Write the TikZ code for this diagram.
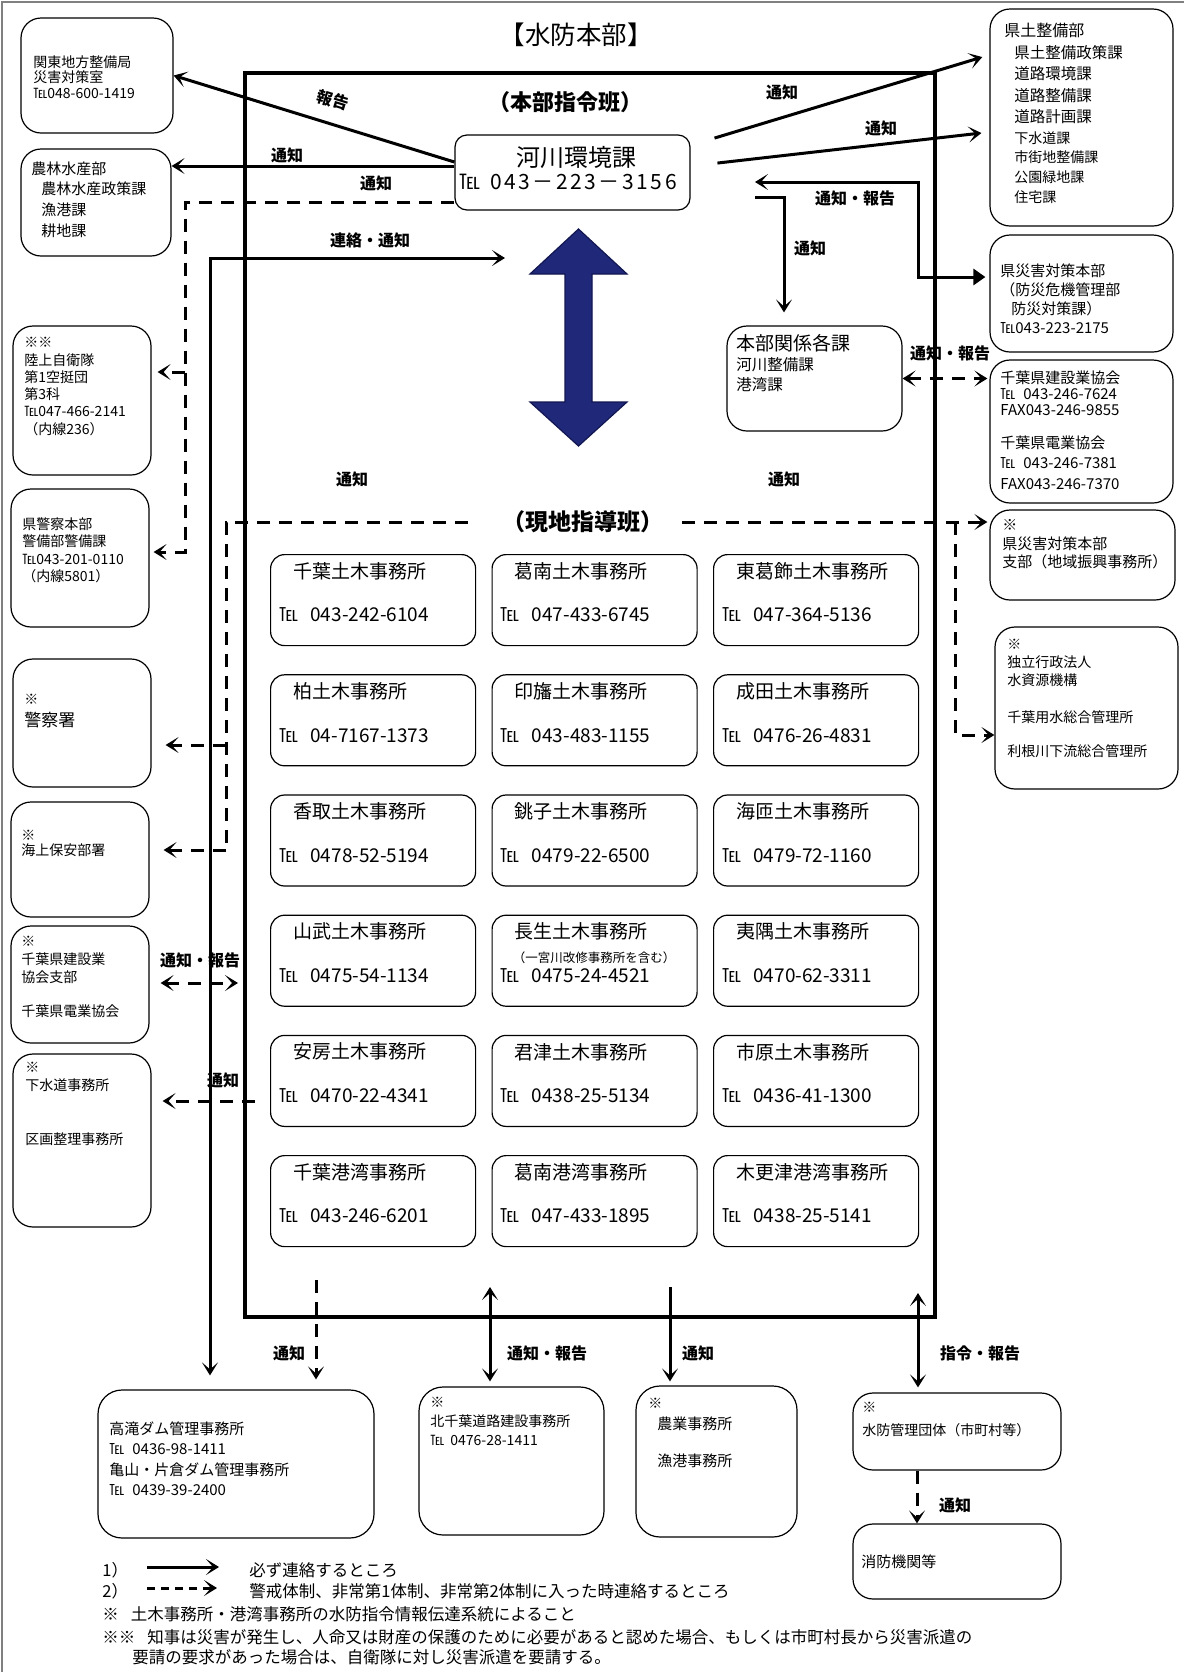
\documentclass[tikz,border=0pt]{standalone}
\usepackage{fontspec}
\setmainfont{Noto Sans CJK JP}
\usetikzlibrary{arrows.meta,positioning,calc,fit}
\definecolor{navy}{RGB}{32,40,122}
\definecolor{navyd}{RGB}{18,22,80}
\newcommand\fs[2]{\fontsize{#1}{#2}\selectfont}
\tikzset{
  box/.style={draw, rounded corners=10pt, line width=0.6pt, inner sep=0pt},
  ofc/.style={box, rounded corners=7pt, minimum width=102.5pt, minimum height=45.5pt, anchor=north west},
  txt/.style={anchor=north west, align=left, inner sep=0pt},
  lin/.style={anchor=west, inner sep=0pt},
  lbl/.style={font=\fs{8}{8}\bfseries, inner sep=0pt},
  arr/.style={-{Stealth[length=6.5pt,width=8pt,inset=3.5pt]}, line width=1.5pt},
  barr/.style={{Stealth[length=6.5pt,width=8pt,inset=3.5pt]}-{Stealth[length=6.5pt,width=8pt,inset=3.5pt]}, line width=1.5pt},
  dsh/.style={line width=1.5pt, dash pattern=on 6.5pt off 4.5pt},
  darr/.style={arr, dash pattern=on 6.5pt off 4.5pt},
  dbarr/.style={barr, dash pattern=on 6.5pt off 4.5pt}}

\begin{document}
\begin{tikzpicture}[x=0.5pt, y=-0.5pt]
  \useasboundingbox (0,0) rectangle (1184,1672);
  \draw[gray, line width=0.8pt] (2,1672) -- (2,2) -- (1184,2);
  % headquarters frame
  \node[draw, line width=2pt, inner sep=0pt, fit={(245,73) (935,1317)}] (hq) {};
  \node[font=\fs{12.75}{12.75}] (title) at (576,35) {【水防本部】};
  \node[font=\fs{11}{11}\bfseries] (shirei) at (565,102) {（本部指令班）};
  \node[box, rounded corners=6pt, fit={(455,135) (690,210)}] (kawa) {};
  \node[font=\fs{12}{12}] (kawaT) at (576,157) {河川環境課};
  \node[lin, font=\fs{10.5}{10.5}] (kawaP) at (459,182) {℡\hspace{5pt}{\addfontfeature{LetterSpace=12}043－223－3156}};
  \fill[navy, draw=navyd, line width=0.6pt] (578.5,229) -- (627,274) -- (592,274) -- (592,402) -- (627,402)
    -- (578.5,446) -- (530,402) -- (565,402) -- (565,274) -- (530,274) -- cycle;
  \node[font=\fs{11.5}{11.5}\bfseries, inner xsep=9pt] (genchi) at (583,522) {（現地指導班）};

  % left column
  \node[box, fit={(21,18) (173,133)}] (kanto) {};
  \node[txt, font=\fs{7}{7.75}] (kantoT) at (33,55) {関東地方整備局\\災害対策室\\℡048-600-1419};
  \node[box, fit={(21,149) (171,256)}] (nourin) {};
  \node[txt, font=\fs{7.5}{10.35}] (nourinT) at (31,161) {農林水産部\\\hspace*{5pt}農林水産政策課\\\hspace*{5pt}漁港課\\\hspace*{5pt}耕地課};
  \node[box, fit={(13,326) (151,475)}] (jieitai) {};
  \node[txt, font=\fs{7}{8.65}] (jieitaiT) at (24,337) {※※\\陸上自衛隊\\第1空挺団\\第3科\\℡047-466-2141\\（内線236）};
  \node[box, fit={(11,489) (149,627)}] (keihon) {};
  \node[txt, font=\fs{7}{8.75}] (keihonT) at (22,517) {県警察本部\\警備部警備課\\℡043-201-0110\\（内線5801）};
  \node[box, fit={(13,659) (151,787)}] (keisatsu) {};
  \node[lin, font=\fs{7}{7}] (keisatsuT) at (24,699) {※};
  \node[lin, font=\fs{8.5}{8.5}] (keisatsuT2) at (24,720) {警察署};
  \node[box, fit={(11,802) (149,917)}] (kaijo) {};
  \node[txt, font=\fs{7}{7.5}] (kaijoT) at (21,830) {※\\海上保安部署};
  \node[box, fit={(11,926) (149,1043)}] (kss) {};
  \node[txt, font=\fs{7}{9}] (kssT) at (21,936) {※\\千葉県建設業\\協会支部};
  \node[lin, font=\fs{7}{7}] (kssT2) at (21,1011) {千葉県電業協会};
  \node[box, fit={(13,1054) (151,1227)}] (gesui) {};
  \node[txt, font=\fs{7}{9}] (gesuiT) at (25,1062) {※\\下水道事務所};
  \node[lin, font=\fs{7}{7}] (gesuiT2) at (25,1139) {区画整理事務所};

  % right column
  \node[box, fit={(990,9) (1173,226)}] (kendo) {};
  \node[lin, font=\fs{8}{8}] (kendoT) at (1004,30) {県土整備部};
  \node[txt, font=\fs{7.75}{10.65}] (kendoT2) at (1014,45) {県土整備政策課\\道路環境課\\道路整備課\\道路計画課};
  \node[txt, font=\fs{7}{9.85}] (kendoT3) at (1014,131) {下水道課\\市街地整備課\\公園緑地課\\住宅課};
  \node[box, fit={(990,235) (1173,352)}] (saigai) {};
  \node[txt, font=\fs{7.5}{9.65}] (saigaiT) at (1000,263) {県災害対策本部\\（防災危機管理部\\\hspace*{5.5pt}防災対策課）\\℡043-223-2175};
  \node[box, fit={(990,360) (1173,503)}] (kyokai) {};
  \node[txt, font=\fs{7.5}{8}] (kyokaiT) at (1000,370) {千葉県建設業協会\\℡\hspace{4pt}043-246-7624\\FAX043-246-9855};
  \node[txt, font=\fs{7.5}{10.25}] (kyokaiT2) at (1000,435) {千葉県電業協会\\℡\hspace{4pt}043-246-7381\\FAX043-246-7370};
  \node[box, fit={(990,510) (1175,600)}] (shibu) {};
  \node[txt, font=\fs{7.5}{9.25}] (shibuT) at (1002,519) {※\\県災害対策本部\\支部（地域振興事務所）};
  \node[box, fit={(995,627) (1178,789)}] (mizu) {};
  \node[txt, font=\fs{7}{9}] (mizuT) at (1007,639) {※\\独立行政法人\\水資源機構};
  \node[txt, font=\fs{7}{17}] (mizuT2) at (1007,710) {千葉用水総合管理所\\利根川下流総合管理所};
  \node[box, fit={(727,326) (902,431)}] (hk) {};
  \node[lin, font=\fs{9.5}{9.5}] (hkT) at (736,343) {本部関係各課};
  \node[txt, font=\fs{7.75}{10}] (hkT2) at (736,357) {河川整備課\\港湾課};

  % offices
  \foreach \nm/\tl [count=\i from 0] in {千葉土木事務所/043-242-6104, 葛南土木事務所/047-433-6745,
      東葛飾土木事務所/047-364-5136, 柏土木事務所/04-7167-1373, 印旛土木事務所/043-483-1155,
      成田土木事務所/0476-26-4831, 香取土木事務所/0478-52-5194, 銚子土木事務所/0479-22-6500,
      海匝土木事務所/0479-72-1160, 山武土木事務所/0475-54-1134, 長生土木事務所/0475-24-4521,
      夷隅土木事務所/0470-62-3311, 安房土木事務所/0470-22-4341, 君津土木事務所/0438-25-5134,
      市原土木事務所/0436-41-1300, 千葉港湾事務所/043-246-6201, 葛南港湾事務所/047-433-1895,
      木更津港湾事務所/0438-25-5141} {
    \pgfmathtruncatemacro\cc{mod(\i,3)}
    \pgfmathtruncatemacro\rr{div(\i,3)}
    \node[ofc] (o\i) at (270+221.5*\cc, 554+120.2*\rr) {};
    \node[lin, font=\fs{9.5}{9.5}] (t\i) at ([shift={(23,17)}]o\i.north west) {\nm};
    \node[lin, font=\fs{9.5}{9.5}] (p\i) at ([shift={(9,61)}]o\i.north west) {℡\hspace{6pt}\tl};
  }
  \node[lin, font=\fs{6.25}{6.25}] (o10s) at ([shift={(21,43)}]o10.north west) {（一宮川改修事務所を含む）};

  % bottom row
  \node[box, rounded corners=12pt, fit={(98,1390) (374,1538)}] (takataki) {};
  \node[txt, font=\fs{7.5}{10.3}] (takatakiT) at (109,1421) {高滝ダム管理事務所\\℡\hspace{4pt}0436-98-1411\\亀山・片倉ダム管理事務所\\℡\hspace{4pt}0439-39-2400};
  \node[box, rounded corners=12pt, fit={(419,1387) (604,1535)}] (kitachiba) {};
  \node[txt, font=\fs{7}{9.5}] (kitachibaT) at (430,1397) {※\\北千葉道路建設事務所\\℡\hspace{3pt}0476-28-1411};
  \node[box, rounded corners=12pt, fit={(636,1386) (797,1537)}] (nogyo) {};
  \node[lin, font=\fs{7}{7}] (nogyoT) at (648,1403) {※};
  \node[txt, font=\fs{7.5}{18.5}] (nogyoT2) at (657,1416) {農業事務所\\漁港事務所};
  \node[box, rounded corners=10pt, fit={(853,1393) (1061,1470)}] (suibo) {};
  \node[txt, font=\fs{7}{11.5}] (suiboT) at (862,1402) {※\\水防管理団体（市町村等）};
  \node[box, rounded corners=10pt, fit={(853,1524) (1061,1599)}] (shobo) {};
  \node[lin, font=\fs{7.5}{7.5}] (shoboT) at (861,1562) {消防機関等};

  % connectors, upper left
  \draw[arr] ([yshift=5.25pt]kawa.west) -- (kanto.east);
  \node[lbl, rotate=-17.2] (l1) at (333,100) {報告};
  \draw[arr] ([yshift=3.25pt]kawa.west) coordinate (k1) -- (k1 -| nourin.east);
  \node[lbl] (l2) at (287,155) {通知};
  \coordinate (jt) at ([yshift=14.25pt]jieitai.east);
  \coordinate (kh) at ([yshift=3pt]keihon.east);
  \coordinate (dl) at (185,0);
  \draw[darr, shorten >=2pt] ([yshift=-14.75pt]kawa.west) -| (dl |- kh) -- (kh);
  \draw[darr, shorten >=3pt] (dl |- jt) -- (jt);
  \node[lbl] (l3) at (376,183) {通知};
  \coordinate (rn) at (505,258);
  \coordinate (lt) at (210,258);
  \draw[barr, shorten >=7pt] (rn) -- (lt) -- (lt |- takataki.north);
  \node[lbl] (l4) at (370,240) {連絡・通知};

  % connectors, upper right
  \draw[arr, shorten <=12.5pt, shorten >=3.7pt] ([yshift=13.6pt]kawa.east) -- ([yshift=31.3pt]kendo.west);
  \node[lbl] (l5) at (782,92) {通知};
  \draw[arr, shorten <=13.5pt, shorten >=4pt] ([yshift=3.2pt]kawa.east) -- ([yshift=-7.3pt]kendo.west);
  \node[lbl] (l6) at (881,128) {通知};
  \coordinate (nt) at (755,182);
  \coordinate (nb) at (918,182);
  \coordinate (sg) at ([yshift=8.25pt]saigai.west);
  \draw[{Stealth[length=6.5pt,width=8pt,inset=3.5pt]}-{Triangle[length=6pt,width=8pt]}, line width=1.5pt, shorten >=2pt] (nt) -- (nb) |- (sg);
  \node[lbl] (l7) at (855,198) {通知・報告};
  \coordinate (nd) at (755,197);
  \draw[arr, shorten >=6.5pt] (nd) -| ([xshift=-15.25pt]hk.north);
  \node[lbl] (l8) at (810,248) {通知};
  \draw[dbarr, shorten >=1pt] (hk.east) -- (hk.east -| kyokai.west);
  \node[lbl] (l9) at (950,353) {通知・報告};

  % field team lines
  \node[lbl] (l10) at (352,479) {通知};
  \node[lbl] (l11) at (784,479) {通知};
  \coordinate (gl) at (226,522);
  \coordinate (ks) at ([yshift=-11pt]keisatsu.east);
  \coordinate (kj) at ([yshift=4.75pt]kaijo.east);
  \draw[dsh, shorten <=8pt] (genchi.west) -- (gl) -- (gl |- kj);
  \draw[darr, shorten >=7pt] (gl |- ks) -- (ks);
  \draw[darr, shorten >=7pt] (gl |- kj) -- (kj);
  \coordinate (gr) at (955,522);
  \coordinate (mz) at ([yshift=-13.5pt]mizu.west);
  \draw[darr, shorten >=1pt] (genchi.east) -- (genchi.east -| shibu.west);
  \draw[darr] (gr) |- (mz);
  \coordinate (ka) at ([yshift=0.75pt]kss.east);
  \draw[dbarr, shorten <=5.5pt, shorten >=2.5pt] (ka) -- (ka -| hq.west);
  \node[lbl] (l12) at (200,960) {通知・報告};
  \coordinate (gs) at ([yshift=19.75pt]gesui.east);
  \coordinate (gs0) at ([xshift=6pt]hq.west);
  \draw[darr, shorten >=5.5pt] (gs0 |- gs) -- (gs);
  \node[lbl] (l13) at (223,1080) {通知};

  % bottom connectors
  \coordinate (bd1) at (316,1280);
  \draw[darr, shorten >=5pt] (bd1) -- (bd1 |- takataki.north);
  \node[lbl] (l14) at (289,1353) {通知};
  \coordinate (bd2) at (490,1287);
  \draw[barr, shorten >=2.5pt] (bd2) -- (bd2 |- kitachiba.north);
  \node[lbl] (l15) at (547,1353) {通知・報告};
  \coordinate (bd3) at (670,1287);
  \draw[arr, shorten >=2pt] (bd3) -- (bd3 |- nogyo.north);
  \node[lbl] (l16) at (698,1353) {通知};
  \coordinate (bd4) at (918,1293);
  \draw[barr, shorten >=2.5pt] (bd4) -- (bd4 |- suibo.north);
  \node[lbl] (l17) at (980,1353) {指令・報告};
  \draw[darr] ([xshift=-20pt]suibo.south) -- ([xshift=-20pt]shobo.north);
  \node[lbl] (l18) at (955,1505) {通知};

  % legend
  \node[lin, font=\fs{8.25}{8.25}] (lg1) at (102,1570) {1）};
  \coordinate (la1) at (147,1567);
  \coordinate (lb1) at (219,1567);
  \draw[arr] (la1) -- (lb1);
  \node[lin, font=\fs{8.25}{8.25}] (lg1t) at (249,1570) {必ず連絡するところ};
  \node[lin, font=\fs{8.25}{8.25}] (lg2) at (102,1591) {2）};
  \coordinate (la2) at (147,1588);
  \coordinate (lb2) at (217,1588);
  \draw[arr, dash pattern=on 4pt off 3pt] (la2) -- (lb2);
  \node[lin, font=\fs{8.25}{8.25}] (lg2t) at (249,1591) {警戒体制、非常第1体制、非常第2体制に入った時連絡するところ};
  \node[lin, font=\fs{8.25}{8.25}] (lg3) at (102,1614) {※\hspace{6pt}土木事務所・港湾事務所の水防指令情報伝達系統によること};
  \node[lin, font=\fs{8.25}{8.25}] (lg4) at (102,1637) {※※\hspace{6pt}知事は災害が発生し、人命又は財産の保護のために必要があると認めた場合、もしくは市町村長から災害派遣の};
  \node[lin, font=\fs{8.25}{8.25}] (lg5) at (132,1657) {要請の要求があった場合は、自衛隊に対し災害派遣を要請する。};
\end{tikzpicture}
\end{document}
